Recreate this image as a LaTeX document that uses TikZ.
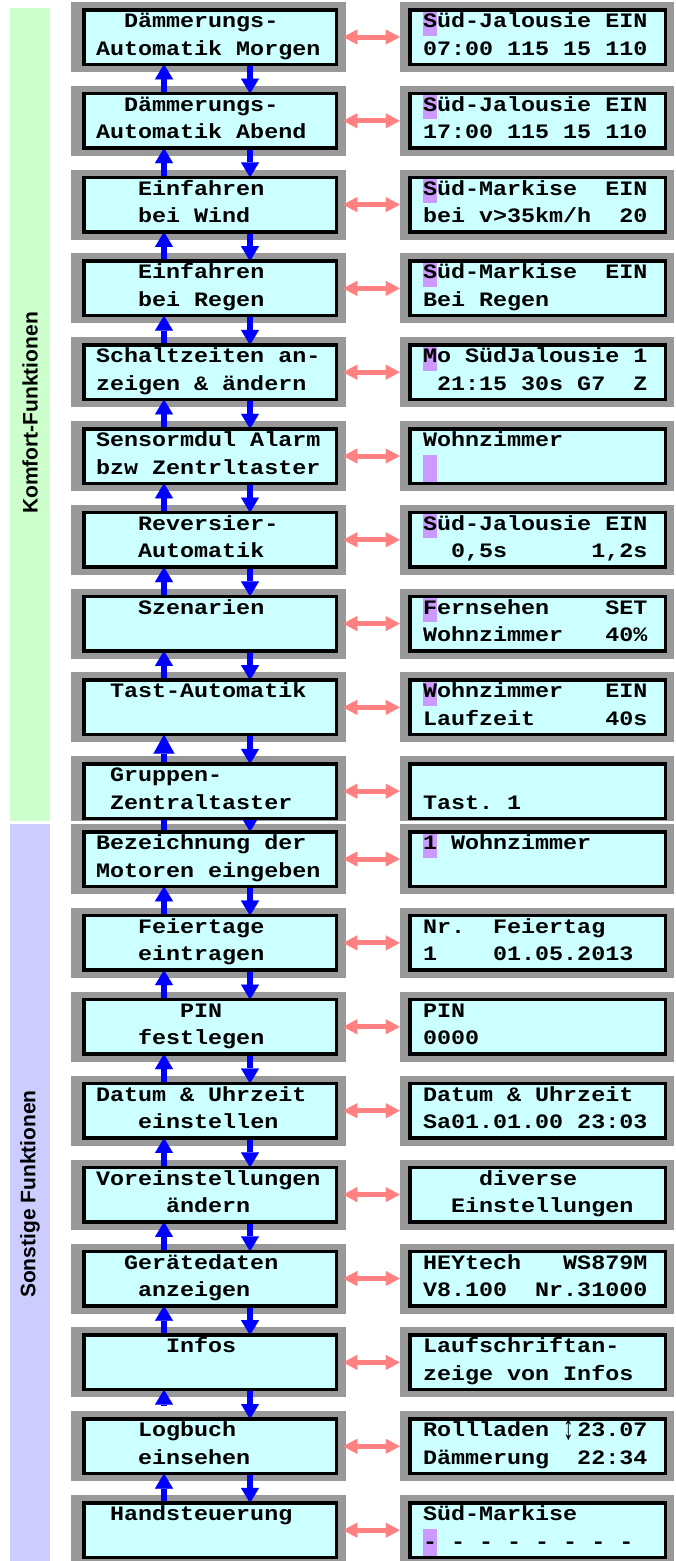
\documentclass[tikz,border=0pt]{standalone}
\usepackage{fontspec}
\usepackage{graphicx}
\newfontfamily\lcdfont{Liberation Mono}[FakeStretch=1.14]
\newfontfamily\labfont{Liberation Sans}
\usetikzlibrary{arrows.meta}
\definecolor{lcdbg}{HTML}{CCFFFF}
\definecolor{shadowgray}{HTML}{999999}
\definecolor{cursorviolet}{HTML}{CC99FF}
\definecolor{linkpink}{HTML}{FF8080}
\definecolor{navblue}{HTML}{0000FF}
\definecolor{bandgreen}{HTML}{CCFFCC}
\definecolor{bandblue}{HTML}{CCCCFF}
\pgfdeclarelayer{bg}
\pgfdeclarelayer{arr}
\pgfdeclarelayer{hl}
\pgfdeclarelayer{txt}
\pgfsetlayers{bg,arr,main,hl,txt}
\def\ZZ{\phantom{0}}
\def\UPDN{\makebox[0pt][l]{\hspace{-1pt}\raisebox{-3pt}{\scalebox{0.9}[1.75]{↕}}}\ZZ}
\tikzset{
  lcd/.style={draw=black, line width=3.5pt, fill=lcdbg, rectangle, minimum height=54.5pt, inner sep=0pt, outer sep=0pt},
  lbox/.style={lcd, minimum width=252.5pt},
  rbox/.style={lcd, minimum width=255.5pt},
  lcdtxt/.style={anchor=base west, inner sep=0pt, outer sep=0pt, font=\lcdfont\bfseries\fontsize{20.5}{28}\selectfont},
  shade/.style={fill=shadowgray},
  nav/.style={draw=navblue, line width=6pt, -{Triangle[width=18pt,length=15pt,line width=0.1pt]}},
  bignav/.style={draw=navblue, line width=6pt, -{Triangle[width=21pt,length=19pt,line width=0.1pt]}},
  link/.style={draw=linkpink, line width=5pt, {Triangle[width=15pt,length=14pt,line width=0.1pt]}-{Triangle[width=15pt,length=14pt,line width=0.1pt]}, shorten <=7pt, shorten >=10pt},
  bandlabel/.style={rotate=90, inner sep=0pt, font=\labfont\bfseries\fontsize{21}{24}\selectfont},
}
% #1 id, #2 top, #3 L line1, #4 L line2, #5 R line1, #6 R line2, #7 shadow bottom offset
\newcommand\panel[7]{%
  \begin{pgfonlayer}{bg}
    \fill[shade] (71,#2-6) rectangle (346,#2+#7);
    \fill[shade] (400,#2-6) rectangle (674,#2+#7);
  \end{pgfonlayer}
  \node[lbox] (L#1) at (210,#2+29) {};
  \node[rbox] (R#1) at (537.5,#2+29) {};
  \begin{pgfonlayer}{txt}
    \node[lcdtxt] (L#1a) at (96,#2+19.5) {#3};
    \node[lcdtxt] (L#1b) at (96,#2+47) {#4};
    \node[lcdtxt] (R#1a) at (423,#2+19.5) {#5};
    \node[lcdtxt] (R#1b) at (423,#2+47) {#6};
  \end{pgfonlayer}
}
\newcommand\cursorA[1]{\begin{pgfonlayer}{hl}\fill[cursorviolet] (423,#1+3.5) rectangle (437,#1+27.5);\end{pgfonlayer}}
\newcommand\cursorB[1]{\begin{pgfonlayer}{hl}\fill[cursorviolet] (423,#1+28) rectangle (437,#1+54.5);\end{pgfonlayer}}

\begin{document}
\begin{tikzpicture}[x=1pt,y=-1pt]
\useasboundingbox (0,0) rectangle (676,1561);
\begin{pgfonlayer}{bg}
  \fill[white] (0,0) rectangle (676,1561);
  \fill[bandgreen] (10,8) rectangle (50,821);
  \fill[bandblue] (10,824) rectangle (50,1561);
\end{pgfonlayer}
\node[bandlabel] (komfort) at (30,413) {Komfort-Funktionen};
\node[bandlabel] (sonstige) at (30,1194) {Sonstige Funktionen};

\coordinate (ux) at (164,0);
\coordinate (dx) at (250,0);

\panel{1}{8}{\ZZ\ZZ Dämmerungs-}{Automatik\ZZ Morgen}{Süd-Jalousie\ZZ EIN}{07:00\ZZ 115\ZZ 15\ZZ 110}{64}
\panel{2}{91.8}{\ZZ\ZZ Dämmerungs-}{Automatik\ZZ Abend}{Süd-Jalousie\ZZ EIN}{17:00\ZZ 115\ZZ 15\ZZ 110}{64}
\panel{3}{175.6}{\ZZ\ZZ\ZZ Einfahren}{\ZZ\ZZ\ZZ bei\ZZ Wind}{Süd-Markise\ZZ\ZZ EIN}{bei\ZZ v>35km/h\ZZ\ZZ 20}{64}
\panel{4}{259.4}{\ZZ\ZZ\ZZ Einfahren}{\ZZ\ZZ\ZZ bei\ZZ Regen}{Süd-Markise\ZZ\ZZ EIN}{Bei\ZZ Regen}{64}
\panel{5}{343.2}{Schaltzeiten\ZZ an-}{zeigen\ZZ \&\ZZ ändern}{Mo\ZZ SüdJalousie\ZZ 1}{\ZZ 21:15\ZZ 30s\ZZ G7\ZZ\ZZ Z}{64}
\panel{6}{427}{Sensormdul\ZZ Alarm}{bzw\ZZ Zentrltaster}{Wohnzimmer}{}{64}
\panel{7}{510.8}{\ZZ\ZZ\ZZ Reversier-}{\ZZ\ZZ\ZZ Automatik}{Süd-Jalousie\ZZ EIN}{\ZZ\ZZ 0,5s\ZZ\ZZ\ZZ\ZZ\ZZ\ZZ 1,2s}{64}
\panel{8}{594.6}{\ZZ\ZZ\ZZ Szenarien}{}{Fernsehen\ZZ\ZZ\ZZ\ZZ SET}{Wohnzimmer\ZZ\ZZ\ZZ 40\%}{64}
\panel{9}{678.4}{\ZZ Tast-Automatik}{}{Wohnzimmer\ZZ\ZZ\ZZ EIN}{Laufzeit\ZZ\ZZ\ZZ\ZZ\ZZ 40s}{64}
\panel{10}{762.2}{\ZZ Gruppen-}{\ZZ Zentraltaster}{}{Tast.\ZZ 1}{58.8}
\panel{11}{830}{Bezeichnung\ZZ der}{Motoren\ZZ eingeben}{1\ZZ Wohnzimmer}{}{64}
\panel{12}{913.9}{\ZZ\ZZ\ZZ Feiertage}{\ZZ\ZZ\ZZ eintragen}{Nr.\ZZ\ZZ Feiertag}{1\ZZ\ZZ\ZZ\ZZ 01.05.2013}{64}
\panel{13}{997.8}{\ZZ\ZZ\ZZ\ZZ\ZZ\ZZ PIN}{\ZZ\ZZ\ZZ festlegen}{PIN}{0000}{64}
\panel{14}{1081.7}{Datum\ZZ \&\ZZ Uhrzeit}{\ZZ\ZZ\ZZ einstellen}{Datum\ZZ \&\ZZ Uhrzeit}{Sa01.01.00\ZZ 23:03}{64}
\panel{15}{1165.6}{Voreinstellungen}{\ZZ\ZZ\ZZ\ZZ\ZZ ändern}{\ZZ\ZZ\ZZ\ZZ diverse}{\ZZ\ZZ Einstellungen}{64}
\panel{16}{1249.5}{\ZZ\ZZ Gerätedaten}{\ZZ\ZZ\ZZ anzeigen}{HEYtech\ZZ\ZZ\ZZ WS879M}{V8.100\ZZ\ZZ Nr.31000}{64}
\panel{17}{1333.4}{\ZZ\ZZ\ZZ\ZZ\ZZ Infos}{}{Laufschriftan-}{zeige\ZZ von\ZZ Infos}{64}
\panel{18}{1417.3}{\ZZ\ZZ\ZZ Logbuch}{\ZZ\ZZ\ZZ einsehen}{Rollladen\ZZ \UPDN 23.07}{Dämmerung\ZZ\ZZ 22:34}{64}
\panel{19}{1501.2}{\ZZ Handsteuerung}{}{Süd-Markise}{-\ZZ -\ZZ -\ZZ -\ZZ -\ZZ -\ZZ -\ZZ -}{64}

\cursorA{8}\cursorA{91.8}\cursorA{175.6}\cursorA{259.4}\cursorA{343.2}
\cursorB{427}\cursorA{510.8}\cursorA{594.6}\cursorA{678.4}\cursorA{830}
\cursorB{1501.2}

\begin{pgfonlayer}{arr}
  \foreach \a/\b in {1/2,2/3,3/4,4/5,5/6,6/7,7/8,8/9,11/12,12/13,13/14,14/15,15/16,16/17,18/19}{
    \draw[nav] (L\b.north -| ux) -- (L\a.south -| ux);
  }
  \foreach \a/\b in {1/2,2/3,3/4,4/5,5/6,6/7,7/8,8/9,9/10,10/11,11/12,12/13,13/14,14/15,15/16,16/17,17/18,18/19}{
    \draw[nav] (L\a.south -| dx) -- (L\b.north -| dx);
  }
  \draw[bignav] (L10.north -| ux) -- (L9.south -| ux);
  \path (L10.south -| ux) ++(0,-14) coordinate (g10up);
  \draw[nav] (L11.north -| ux) -- (g10up);
  \draw[nav, shorten <=13pt] (L18.north -| ux) -- (L17.south -| ux);
  \foreach \i in {1,...,19}{
    \draw[link] (L\i.east) -- (R\i.west);
  }
\end{pgfonlayer}
\end{tikzpicture}
\end{document}
